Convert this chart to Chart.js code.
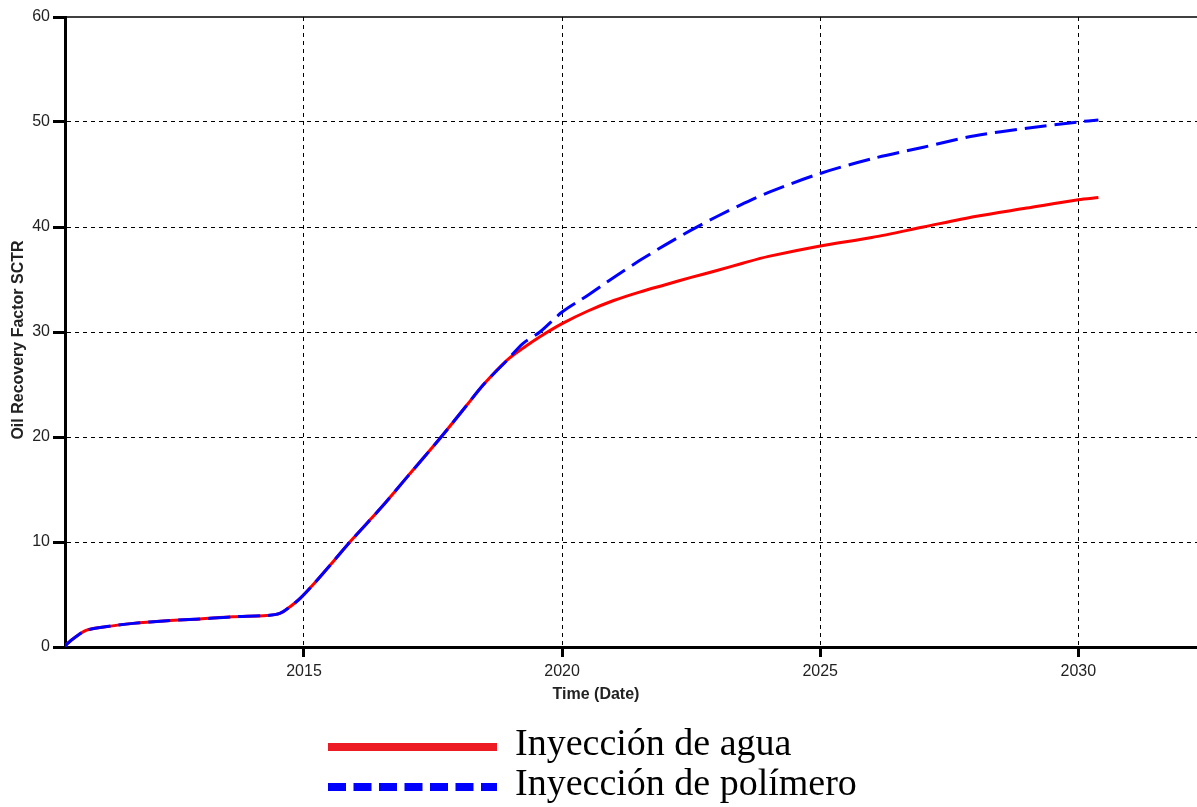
<!DOCTYPE html>
<html>
<head>
<meta charset="utf-8">
<script src="https://cdn.jsdelivr.net/npm/chart.js@4/dist/chart.umd.min.js"></script>
<style>
  html, body { margin: 0; padding: 0; background: #fff; }
  #wrap { width: 1197px; height: 807px; position: relative; }
</style>
</head>
<body>
<div id="wrap"><canvas id="chart" width="1197" height="807"></canvas></div>
<script>
// time in decimal years
const years = [2010.37, 2010.41, 2010.60, 2010.79, 2011.05, 2011.69, 2012.35, 2012.98, 2013.62, 2014.28,
  2014.53, 2014.73, 2014.92, 2015.17, 2015.56, 2015.89, 2016.5, 2017.0, 2017.64, 2018.15,
  2018.47, 2018.93, 2019.24, 2019.57, 2020.0, 2020.5, 2021.0, 2021.5, 2022.0, 2022.5,
  2023.0, 2023.5, 2024.0, 2025.0, 2026.0, 2027.0, 2028.0, 2029.0, 2030.0, 2030.39];

// Oil Recovery Factor SCTR
const waterRF = [0, 0.3, 1.05, 1.6, 1.85, 2.25, 2.5, 2.67, 2.88, 3.0,
  3.2, 3.84, 4.6, 5.9, 8.1, 10.0, 13.3, 16.2, 19.9, 23.0,
  24.95, 27.3, 28.45, 29.55, 30.8, 32.0, 33.0, 33.8, 34.5, 35.2,
  35.85, 36.55, 37.2, 38.2, 39.0, 40.0, 41.0, 41.8, 42.6, 42.8];

const polymerRF = [0, 0.3, 1.05, 1.6, 1.85, 2.25, 2.5, 2.67, 2.88, 3.0,
  3.2, 3.84, 4.6, 5.9, 8.1, 10.0, 13.3, 16.2, 19.9, 23.0,
  24.95, 27.3, 28.9, 30.0, 31.9, 33.5, 35.2, 36.8, 38.3, 39.7,
  41.0, 42.2, 43.3, 45.1, 46.5, 47.6, 48.7, 49.4, 50.0, 50.2];

const seriesNames = ['Inyección de agua', 'Inyección de polímero'];
const xTicks = [2015, 2020, 2025, 2030];
const xTitle = 'Time (Date)';
const yTitle = 'Oil Recovery Factor SCTR';

const sansFont = 'Arial, "Liberation Sans", sans-serif';
const serifFont = '"Times New Roman", "Liberation Serif", serif';

function toPoints(vals) {
  return years.map(function(y, i) { return { x: y, y: vals[i] }; });
}

// axis titles, top frame line and the legend are drawn here
const extras = {
  id: 'extras',
  afterDraw: function(chart) {
    let ctx = chart.ctx;
    let area = chart.chartArea;
    ctx.save();

    // top frame
    ctx.strokeStyle = '#000';
    ctx.lineWidth = 1.5;
    ctx.beginPath();
    ctx.moveTo(area.left, area.top);
    ctx.lineTo(area.right, area.top);
    ctx.stroke();

    // axis titles
    ctx.fillStyle = '#222';
    ctx.font = 'bold 16px ' + sansFont;
    ctx.textAlign = 'center';
    ctx.textBaseline = 'middle';
    ctx.fillText(xTitle, 596, 695);
    ctx.translate(19, 340);
    ctx.rotate(-Math.PI / 2);
    ctx.fillText(yTitle, 0, 0);
    ctx.setTransform(1, 0, 0, 1, 0, 0);

    // legend
    let rows = [747, 787];
    chart.data.datasets.forEach(function(ds, i) {
      let y = rows[i];
      ctx.strokeStyle = ds.legendColor;
      ctx.lineWidth = 8;
      ctx.lineCap = 'butt';
      ctx.setLineDash(ds.borderDash ? [18, 7.5] : []);
      ctx.beginPath();
      ctx.moveTo(328, y);
      ctx.lineTo(497, y);
      ctx.stroke();
      ctx.setLineDash([]);
      ctx.fillStyle = '#000';
      ctx.font = '38px ' + serifFont;
      ctx.textAlign = 'left';
      ctx.textBaseline = 'middle';
      ctx.fillText(ds.label, 515, y - 2);
    });
    ctx.restore();
  }
};

let ctx = document.getElementById('chart').getContext('2d');

new Chart(ctx, {
  type: 'line',
  data: {
    datasets: [{
      label: seriesNames[0],
      data: toPoints(waterRF),
      borderColor: '#ff0000',
      legendColor: '#ed1c24',
      borderWidth: 3,
      pointRadius: 0,
      tension: 0.3,
      order: 1
    }, {
      label: seriesNames[1],
      data: toPoints(polymerRF),
      borderColor: '#0000ff',
      legendColor: '#0000ff',
      borderWidth: 3,
      borderDash: [22, 8],
      pointRadius: 0,
      tension: 0.3,
      order: 0
    }]
  },
  options: {
    responsive: false,
    animation: false,
    layout: { padding: { left: 0, right: 0, top: 17, bottom: 0 } },
    plugins: {
      legend: { display: false },
      tooltip: { enabled: false }
    },
    scales: {
      x: {
        type: 'linear',
        min: 2010.37,
        max: 2032.3,
        afterBuildTicks: function(scale) {
          scale.ticks = xTicks.map(function(v) { return { value: v }; });
        },
        afterFit: function(scale) { scale.height = 160; },
        ticks: {
          color: '#222',
          font: { family: sansFont, size: 16 },
          padding: 5,
          maxRotation: 0,
          callback: function(v) { return String(v); }
        },
        grid: {
          color: '#000',
          lineWidth: 1,
          tickColor: '#000',
          tickWidth: 3,
          tickLength: 10
        },
        border: { color: '#000', width: 3, dash: [4, 4] }
      },
      y: {
        min: 0,
        max: 60,
        afterFit: function(scale) { scale.width = 65; },
        ticks: {
          stepSize: 10,
          color: '#222',
          font: { family: sansFont, size: 16 },
          padding: 3
        },
        grid: {
          color: function(c) { return c.tick && c.tick.value === 60 ? 'rgba(0,0,0,0)' : '#000'; },
          lineWidth: 1,
          tickColor: '#000',
          tickWidth: 3,
          tickLength: 12
        },
        border: { color: '#000', width: 3, dash: [4, 4] }
      }
    }
  },
  plugins: [extras]
});
</script>
</body>
</html>
